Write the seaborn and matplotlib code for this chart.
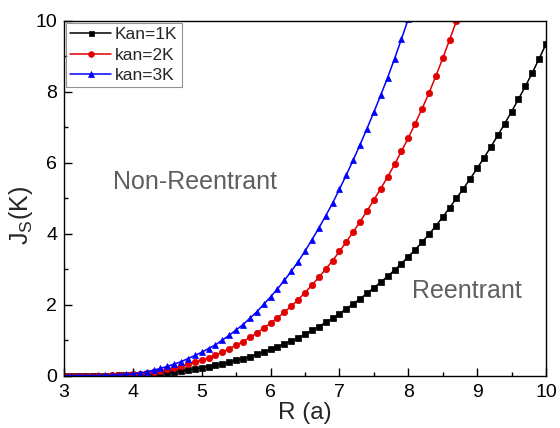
import matplotlib
matplotlib.use("Agg")
import matplotlib.pyplot as plt
from matplotlib.ticker import MultipleLocator
import seaborn as sns

# R grid (a)
r_vals = [3.0, 3.1, 3.2, 3.3, 3.4, 3.5, 3.6, 3.7, 3.8, 3.9,
          4.0, 4.1, 4.2, 4.3, 4.4, 4.5, 4.6, 4.7, 4.8, 4.9,
          5.0, 5.1, 5.2, 5.3, 5.4, 5.5, 5.6, 5.7, 5.8, 5.9,
          6.0, 6.1, 6.2, 6.3, 6.4, 6.5, 6.6, 6.7, 6.8, 6.9,
          7.0, 7.1, 7.2, 7.3, 7.4, 7.5, 7.6, 7.7, 7.8, 7.9,
          8.0, 8.1, 8.2, 8.3, 8.4, 8.5, 8.6, 8.7, 8.8, 8.9,
          9.0, 9.1, 9.2, 9.3, 9.4, 9.5, 9.6, 9.7, 9.8, 9.9,
          10.0]

# J_S (K)
js_kan1 = [0, 0, 0, 0, 0, 0, 0.002, 0.004, 0.007, 0.012,
           0.018, 0.026, 0.036, 0.052, 0.068, 0.088, 0.108, 0.132, 0.16, 0.19,
           0.22, 0.255, 0.29, 0.335, 0.38, 0.43, 0.48, 0.54, 0.60, 0.67,
           0.74, 0.815, 0.895, 0.98, 1.07, 1.17, 1.275, 1.385, 1.50, 1.62,
           1.75, 1.885, 2.025, 2.17, 2.32, 2.475, 2.635, 2.80, 2.975, 3.16,
           3.35, 3.55, 3.76, 3.98, 4.22, 4.47, 4.73, 5.00, 5.27, 5.55,
           5.84, 6.14, 6.45, 6.77, 7.10, 7.44, 7.79, 8.15, 8.53, 8.93,
           9.34]
js_kan2 = [0, 0, 0, 0, 0, 0, 0.004, 0.008, 0.014, 0.024,
           0.036, 0.052, 0.072, 0.104, 0.136, 0.176, 0.216, 0.264, 0.32, 0.38,
           0.44, 0.51, 0.58, 0.67, 0.76, 0.86, 0.96, 1.08, 1.20, 1.34,
           1.48, 1.63, 1.79, 1.96, 2.14, 2.34, 2.55, 2.77, 3.00, 3.24,
           3.50, 3.77, 4.05, 4.34, 4.64, 4.95, 5.27, 5.60, 5.95, 6.32,
           6.70, 7.10, 7.52, 7.96, 8.44, 8.94, 9.46, 10.0, 10.54]
js_kan3 = [0, 0, 0, 0, 0, 0, 0.006, 0.012, 0.021, 0.036,
           0.054, 0.078, 0.108, 0.156, 0.204, 0.264, 0.324, 0.396, 0.48, 0.57,
           0.66, 0.765, 0.87, 1.005, 1.14, 1.29, 1.44, 1.62, 1.80, 2.01,
           2.22, 2.445, 2.685, 2.94, 3.21, 3.51, 3.825, 4.155, 4.50, 4.86,
           5.25, 5.655, 6.075, 6.51, 6.96, 7.425, 7.905, 8.40, 8.925, 9.48,
           10.05, 10.65]

series = [
    ("Kan=1K", js_kan1, "#000000", "s", 4.0),
    ("kan=2K", js_kan2, "#e00000", "o", 4.6),
    ("kan=3K", js_kan3, "#0000ff", "^", 5.0),
]

sns.set_style("ticks")
plt.rcParams["font.family"] = ["Liberation Sans", "DejaVu Sans"]
plt.rcParams["mathtext.default"] = "regular"

fig, ax = plt.subplots(figsize=(5.6, 4.28), dpi=100)
fig.subplots_adjust(left=0.1143, right=0.975, bottom=0.1222, top=0.9516)

for name, vals, col, mk, ms in series:
    sns.lineplot(x=r_vals[:len(vals)], y=vals, ax=ax, color=col, marker=mk,
                 markersize=ms, markeredgecolor=col, markeredgewidth=0.5,
                 linewidth=1.1, label=name)

ax.set_xlim(3, 10)
ax.set_ylim(0, 10)
ax.xaxis.set_major_locator(MultipleLocator(1))
ax.xaxis.set_minor_locator(MultipleLocator(0.5))
ax.yaxis.set_major_locator(MultipleLocator(2))
ax.yaxis.set_minor_locator(MultipleLocator(1))
ax.tick_params(which="both", direction="in", top=False, right=False,
               width=1.0, colors="black")
ax.tick_params(which="major", length=5.5, labelsize=14)
ax.tick_params(axis="x", which="major", pad=6)
ax.tick_params(axis="y", which="major", pad=5)
ax.tick_params(which="minor", length=3)
for sp in ax.spines.values():
    sp.set_visible(True)
    sp.set_linewidth(1.0)
    sp.set_color("black")

ax.set_xlabel("R (a)", fontsize=17.5)
ax.set_ylabel("$J_S$(K)", fontsize=18)
ax.xaxis.set_label_coords(0.5, -0.074)
ax.yaxis.set_label_coords(-0.06, 0.45)

ax.text(4.9, 5.45, "Non-Reentrant", fontsize=18, color="#5f5f5f",
        ha="center", va="center")
ax.text(8.85, 2.4, "Reentrant", fontsize=18, color="#5f5f5f",
        ha="center", va="center")

leg = ax.legend(loc="upper left", fontsize=12.5, frameon=True, fancybox=False,
                borderaxespad=0.12, handlelength=2.35, handletextpad=0.2,
                borderpad=0.25, labelspacing=0.3, markerscale=0.9)
leg.get_frame().set_edgecolor("#777777")
leg.get_frame().set_linewidth(0.8)

fig.savefig("out.png", dpi=100)
